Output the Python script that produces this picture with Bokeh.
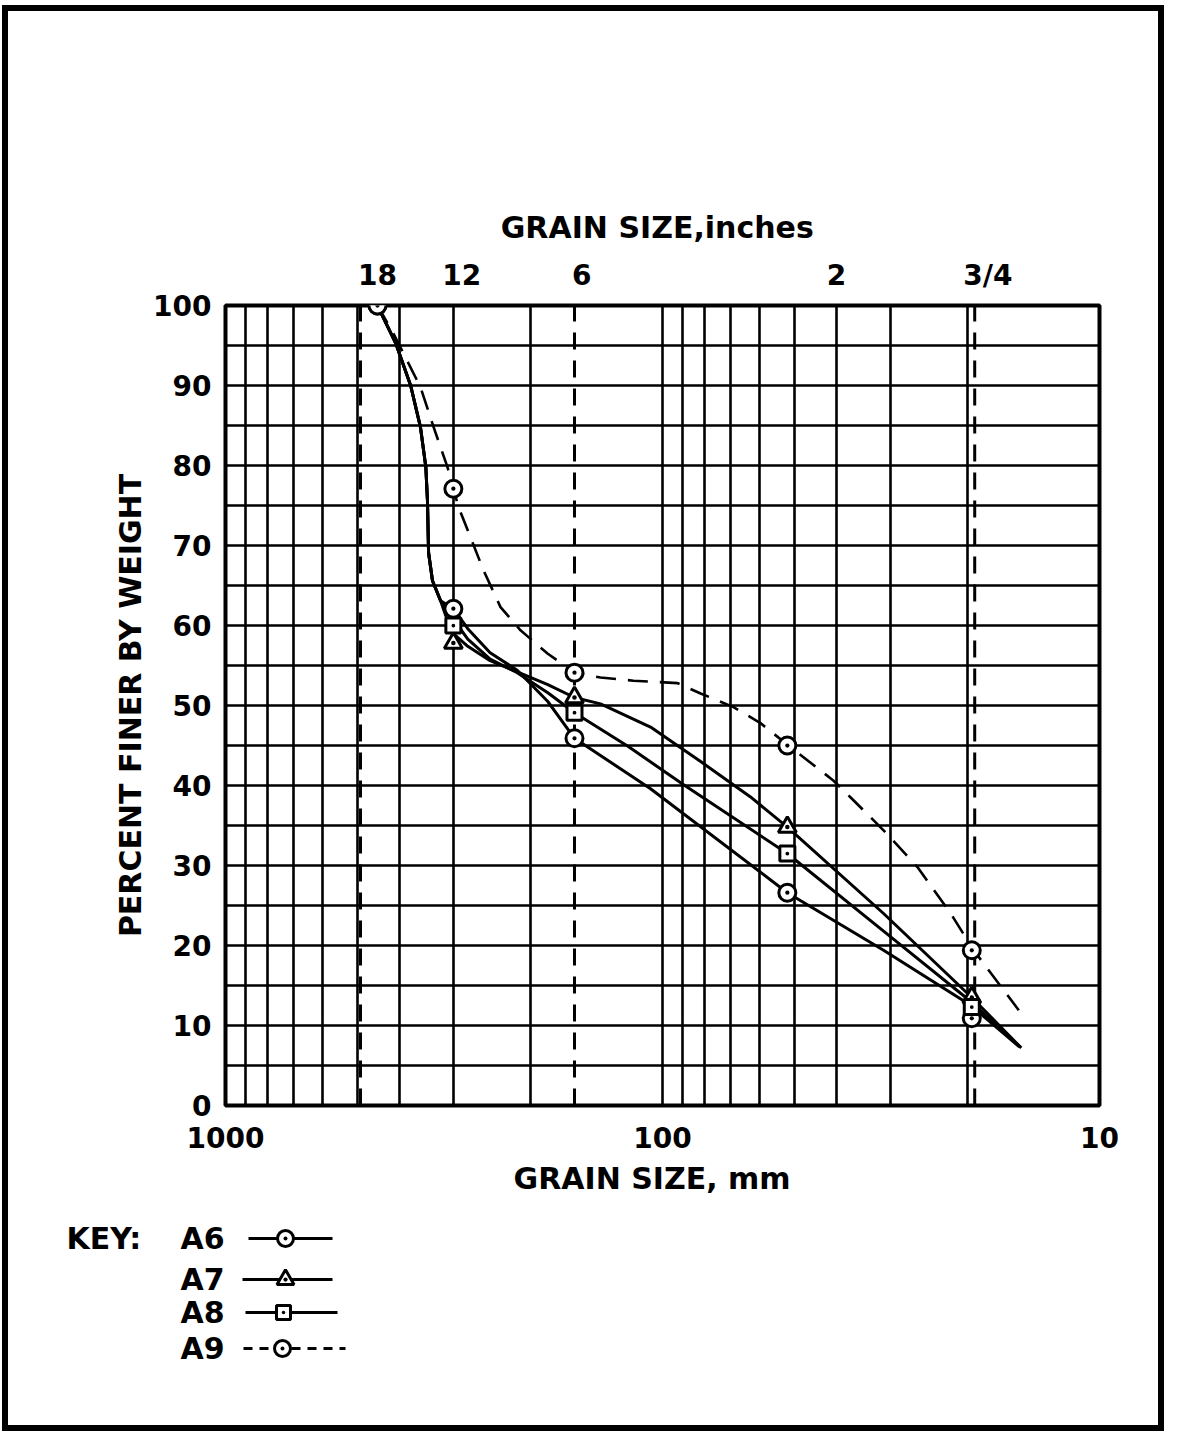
from bokeh.plotting import figure
from bokeh.layouts import column
from bokeh.models import (Range1d, FixedTicker, LinearAxis, BasicTickFormatter)
from bokeh.core.properties import value
from bokeh.embed import file_html
from bokeh.resources import INLINE

NAN = float("nan")

# ---------------- data ----------------
# sieve sizes (mm) at which the samples were plotted
sieve_mm = [449, 301, 159, 51.8, 19.6]
a6_pct = [100, 62.1, 45.9, 26.6, 10.9]
a7_pct = [NAN, 57.8, 51.0, 34.8, 13.5]
a8_pct = [NAN, 60.0, 49.1, 31.5, 12.3]
a9_pct = [100, 77.1, 54.1, 45.0, 19.4]

# hand-drawn gradation curves (mm, percent finer)
a6_curve_mm = [449, 408, 377, 358, 348, 345, 343, 336, 322, 301, 279, 248, 215, 183, 159, 106.5, 51.8, 31.2, 19.8, 15.3]
a6_curve_pct = [100, 95.3, 90, 84.8, 79.8, 75.6, 69.1, 65.6, 63.1, 62.1, 59.6, 56.6, 54.4, 50.5, 45.9, 39.6, 26.6, 19.4, 12.6, 7.4]

a7_curve_mm = [449, 408, 377, 358, 348, 345, 343, 336, 322, 310, 301, 279, 248, 215, 183, 159, 138.6, 106.5, 81.8, 63, 51.8, 31.2, 19.6, 15.1]
a7_curve_pct = [100, 95.3, 90, 84.8, 79.8, 75.6, 69.1, 65.6, 63.1, 60.5, 59.0, 57.4, 55.6, 54.2, 52.6, 51.0, 50.2, 47.3, 43.0, 38.6, 34.8, 24.0, 13.5, 7.2]

a8_curve_mm = [449, 408, 377, 358, 348, 345, 343, 336, 322, 301, 279, 248, 215, 183, 159, 120, 90, 51.8, 31.2, 19.7, 15.2]
a8_curve_pct = [100, 95.3, 90, 84.8, 79.8, 75.6, 69.1, 65.6, 63.1, 60.8, 58.3, 55.8, 54.1, 51.6, 49.1, 44.9, 40.2, 31.5, 21.8, 13.0, 7.3]

a9_curve_mm = [449, 412.7, 358, 334, 310.5, 301, 292.9, 256.8, 234.8, 211.3, 183.3, 159, 138.6, 116.5, 92.4, 81.8, 68.8, 59.7, 51.5, 40.6, 37.1, 31.2, 26.1, 21.9, 19.4, 15.3]
a9_curve_pct = [100, 96.5, 89.8, 84.8, 79.8, 77.1, 74.8, 66.9, 62.3, 59.4, 56.5, 54.1, 53.5, 53.1, 52.8, 51.5, 49.8, 47.8, 45.0, 40.6, 38.5, 34.4, 29.8, 24.0, 19.4, 11.9]

# dashed reference lines (18 in, 6 in, 3/4 in) in mm
ref_lines_mm = [491, 159, 19.3]

# axis ticks / grid
mm_ticks = [1000, 100, 10]
pct_ticks = [0, 10, 20, 30, 40, 50, 60, 70, 80, 90, 100]
grid_mm = [1000, 900, 800, 700, 600, 500, 400, 300, 200, 100, 90, 80, 70, 60, 50, 40, 30, 20, 10]
grid_pct = [0, 5, 10, 15, 20, 25, 30, 35, 40, 45, 50, 55, 60, 65, 70, 75, 80, 85, 90, 95, 100]
inch_tick_mm = [449, 288, 153, 40, 18]
inch_tick_labels = ["18", "12", "6", "2", "3/4"]

series_names = ["A6", "A7", "A8", "A9"]
series_markers = ["circle_dot", "triangle_dot", "square_dot", "circle_dot"]
series_sizes = [17, 18, 15, 17]
series_dash = ["solid", "solid", "solid", "20 12"]

# ---------------- main figure ----------------
FONT = "DejaVu Sans"
W, HM, HK = 1150, 1194, 220
p = figure(width=W, height=HM, x_axis_type="log",
           x_range=Range1d(1000, 10), y_range=Range1d(0, 100),
           output_backend="svg", toolbar_location=None,
           min_border_left=217, min_border_right=59,
           min_border_top=294, min_border_bottom=100,
           background_fill_color="white", border_fill_color="white")
p.frame_align = False

p.outline_line_color = "black"
p.outline_line_width = 4

p.xgrid.ticker = FixedTicker(ticks=grid_mm)
p.ygrid.ticker = FixedTicker(ticks=grid_pct)
for g in (p.xgrid, p.ygrid):
    g.grid_line_color = "black"
    g.grid_line_width = 2.6
    g.grid_line_alpha = 1.0


def style_axis(ax, label_standoff, axis_standoff):
    ax.axis_line_color = None
    ax.major_tick_line_color = None
    ax.minor_tick_line_color = None
    ax.major_label_text_font = FONT
    ax.major_label_text_font_size = "28px"
    ax.major_label_text_font_style = "bold"
    ax.major_label_text_color = "black"
    ax.major_label_standoff = label_standoff
    ax.axis_label_text_font = FONT
    ax.axis_label_text_font_size = "30px"
    ax.axis_label_text_font_style = "bold"
    ax.axis_label_text_color = "black"
    ax.axis_label_standoff = axis_standoff


xax = p.xaxis[0]
xax.ticker = FixedTicker(ticks=mm_ticks)
xax.formatter = BasicTickFormatter(use_scientific=False)
xax.axis_label = "GRAIN  SIZE,  mm"
style_axis(xax, 15, 10)

yax = p.yaxis[0]
yax.ticker = FixedTicker(ticks=pct_ticks)
yax.axis_label = "PERCENT FINER BY WEIGHT"
style_axis(yax, 8, 2)

top = LinearAxis(ticker=FixedTicker(ticks=inch_tick_mm),
                 major_label_overrides=dict(zip(inch_tick_mm, inch_tick_labels)),
                 axis_label="GRAIN  SIZE,inches")
style_axis(top, 8, 11)
p.add_layout(top, "above")

# dashed reference verticals
p.segment(x0=ref_lines_mm, y0=[0] * len(ref_lines_mm), x1=ref_lines_mm, y1=[100] * len(ref_lines_mm),
          line_color="black", line_width=3, line_dash="17 11")

# curves
curves = [(a6_curve_mm, a6_curve_pct), (a7_curve_mm, a7_curve_pct),
          (a8_curve_mm, a8_curve_pct), (a9_curve_mm, a9_curve_pct)]
for (cx, cy), dash in zip(curves, series_dash):
    p.line(cx, cy, line_color="black", line_width=3 if dash == "solid" else 2.6, line_dash=dash)

mk = dict(fill_color="white", line_color="black", line_width=3)
for pct, m, s in zip([a6_pct, a7_pct, a8_pct, a9_pct], series_markers, series_sizes):
    p.scatter(sieve_mm, pct, marker=m, size=s, **mk)

# ---------------- key (legend) panel ----------------
k = figure(width=W, height=HK, x_range=Range1d(0, W), y_range=Range1d(HK, 0),
           output_backend="svg", toolbar_location=None,
           x_axis_location=None, y_axis_location=None,
           min_border=0, min_border_left=0, min_border_right=0,
           min_border_top=0, min_border_bottom=0,
           background_fill_color="white", border_fill_color="white")
k.frame_align = False
k.grid.visible = False
k.outline_line_color = None

key_row_y = [33, 74, 107, 143]
key_line_x0 = [240, 234, 237, 235]
key_line_x1 = [324, 324, 329, 337]
key_mark_x = [277, 277, 275, 274]
key_dash = ["solid", "solid", "solid", "9 7"]

k.text(x=[58], y=[key_row_y[0]], text=["KEY:"], text_font=value(FONT),
       text_font_size=value("30px"), text_font_style="bold", text_color="black",
       text_align="left", text_baseline="middle")
k.text(x=[216] * 4, y=key_row_y, text=series_names, text_font=value(FONT),
       text_font_size=value("30px"), text_font_style="bold", text_color="black",
       text_align="right", text_baseline="middle")
for i in range(4):
    k.segment(x0=[key_line_x0[i]], y0=[key_row_y[i]], x1=[key_line_x1[i]], y1=[key_row_y[i]],
              line_color="black", line_width=3, line_dash=key_dash[i])
    k.scatter(x=[key_mark_x[i]], y=[key_row_y[i]], marker=series_markers[i],
              size=series_sizes[i] - 1, **mk)

layout = column(p, k, spacing=0,
                styles={"border": "6px solid black", "margin-top": "5px", "margin-left": "2px"})

open("out.html", "w").write(file_html(layout, INLINE))
